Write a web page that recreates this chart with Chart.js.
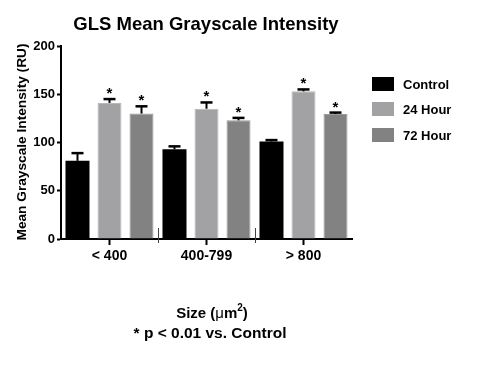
<!DOCTYPE html>
<html>
<head>
<meta charset="utf-8">
<script src="https://cdn.jsdelivr.net/npm/chart.js@4"></script>
<style>
  html, body { margin: 0; padding: 0; background: #fff; }
  #wrap { width: 484px; height: 365px; position: relative; }
</style>
</head>
<body>
<div id="wrap"><canvas id="chart"></canvas></div>
<script>
// data
const categories = ['< 400', '400-799', '> 800'];
const seriesNames = ['Control', '24 Hour', '72 Hour'];
const controlMeans = [81, 93, 101];
const controlErr = [8, 3, 1.5];
const hour24Means = [141, 135, 153];
const hour24Err = [4, 6.5, 2];
const hour72Means = [130, 123, 129.5];
const hour72Err = [7.5, 2.5, 1.5];
const yTicks = [0, 50, 100, 150, 200];

const FONT = '"Liberation Sans", Arial, sans-serif';

// error bars (upper only) + significance stars
const errorBars = {
    id: 'errorBars',
    afterDatasetsDraw(chart) {
        const ctx = chart.ctx;
        const y = chart.scales.y;
        chart.data.datasets.forEach((ds, i) => {
            const meta = chart.getDatasetMeta(i);
            meta.data.forEach((bar, j) => {
                const top = y.getPixelForValue(ds.data[j] + ds.errors[j]);
                ctx.save();
                ctx.strokeStyle = '#000';
                ctx.lineWidth = 2;
                ctx.beginPath();
                ctx.moveTo(bar.x, bar.y);
                ctx.lineTo(bar.x, top);
                ctx.stroke();
                ctx.lineWidth = 2.5;
                ctx.beginPath();
                ctx.moveTo(bar.x - 6, top);
                ctx.lineTo(bar.x + 6, top);
                ctx.stroke();
                if (ds.starred) {
                    ctx.fillStyle = '#000';
                    ctx.font = 'bold 15px ' + FONT;
                    ctx.textAlign = 'center';
                    ctx.textBaseline = 'alphabetic';
                    ctx.fillText('*', bar.x, top - 1);
                }
                ctx.restore();
            });
        });
    }
};

// titles, group separators and legend
const decorations = {
    id: 'decorations',
    afterDraw(chart) {
        const ctx = chart.ctx;
        const x = chart.scales.x;
        const area = chart.chartArea;
        ctx.save();
        ctx.fillStyle = '#000';
        ctx.textAlign = 'center';
        ctx.textBaseline = 'alphabetic';

        ctx.font = 'bold 18.5px ' + FONT;
        ctx.fillText('GLS Mean Grayscale Intensity', 206, 30);

        // separators between groups
        ctx.strokeStyle = '#444';
        ctx.lineWidth = 1;
        for (let i = 0; i < categories.length - 1; i++) {
            const sx = Math.round((x.getPixelForValue(i) + x.getPixelForValue(i + 1)) / 2) + 0.5;
            ctx.beginPath();
            ctx.moveTo(sx, area.bottom - 11);
            ctx.lineTo(sx, area.bottom + 4);
            ctx.stroke();
        }

        // y title
        ctx.save();
        ctx.translate(26, 142);
        ctx.rotate(-Math.PI / 2);
        ctx.font = 'bold 13.7px ' + FONT;
        ctx.fillText('Mean Grayscale Intensity (RU)', 0, 0);
        ctx.restore();

        // x title with superscript
        ctx.textAlign = 'left';
        const big = 'bold 15px ' + FONT;
        const small = 'bold 10px ' + FONT;
        const parts = [['Size (', big, 0], ['\u03bc', '15px ' + FONT, 0], ['m', big, 0], ['2', small, -7], [')', big, 0]];
        let total = 0;
        parts.forEach(p => { ctx.font = p[1]; total += ctx.measureText(p[0]).width; });
        let px = 212 - total / 2;
        parts.forEach(p => {
            ctx.font = p[1];
            ctx.fillText(p[0], px, 318 + p[2]);
            px += ctx.measureText(p[0]).width;
        });

        ctx.textAlign = 'center';
        ctx.font = 'bold 15.5px ' + FONT;
        ctx.fillText('* p < 0.01 vs. Control', 210, 338);

        // legend
        const rowY = [84, 109, 135];
        chart.data.datasets.forEach((ds, i) => {
            ctx.fillStyle = ds.backgroundColor;
            ctx.fillRect(372, rowY[i] - 7, 22, 14);
            ctx.fillStyle = '#000';
            ctx.font = 'bold 13px ' + FONT;
            ctx.textAlign = 'left';
            ctx.textBaseline = 'middle';
            ctx.fillText(ds.label, 403, rowY[i] + 1);
        });
        ctx.restore();
    }
};

const ctx = document.getElementById('chart').getContext('2d');
new Chart(ctx, {
    type: 'bar',
    data: {
        labels: categories,
        datasets: [
            { label: seriesNames[0], data: controlMeans, errors: controlErr, starred: false,
              backgroundColor: '#000000', borderWidth: 0 },
            { label: seriesNames[1], data: hour24Means, errors: hour24Err, starred: true,
              backgroundColor: '#a2a2a5', borderColor: '#b8b8ba', borderWidth: 1, borderSkipped: 'bottom' },
            { label: seriesNames[2], data: hour72Means, errors: hour72Err, starred: true,
              backgroundColor: '#828282', borderColor: '#9a9a9a', borderWidth: 1, borderSkipped: 'bottom' }
        ]
    },
    options: {
        responsive: true,
        maintainAspectRatio: false,
        animation: false,
        events: [],
        layout: { padding: { top: 46, right: 132, left: 0, bottom: 0 } },
        datasets: { bar: { categoryPercentage: 0.99, barPercentage: 0.75 } },
        plugins: { legend: { display: false }, title: { display: false }, tooltip: { enabled: false } },
        scales: {
            x: {
                afterFit: (scale) => { scale.height = 126; },
                grid: { display: true, drawOnChartArea: false, offset: false, tickLength: 6, tickWidth: 2, tickColor: '#000', color: '#000' },
                border: { display: true, color: '#000', width: 2 },
                ticks: { color: '#000', padding: 3, font: { family: FONT, size: 14, weight: 'bold' } }
            },
            y: {
                min: 0,
                max: 200,
                afterFit: (scale) => { scale.width = 61; },
                afterBuildTicks: (scale) => { scale.ticks = yTicks.map(v => ({ value: v })); },
                grid: { display: true, drawOnChartArea: false, tickLength: 4, tickWidth: 2, tickColor: '#000', color: '#000' },
                border: { display: true, color: '#000', width: 2 },
                ticks: { color: '#000', padding: 2, font: { family: FONT, size: 13, weight: 'bold' } }
            }
        }
    },
    plugins: [errorBars, decorations]
});
</script>
</body>
</html>
